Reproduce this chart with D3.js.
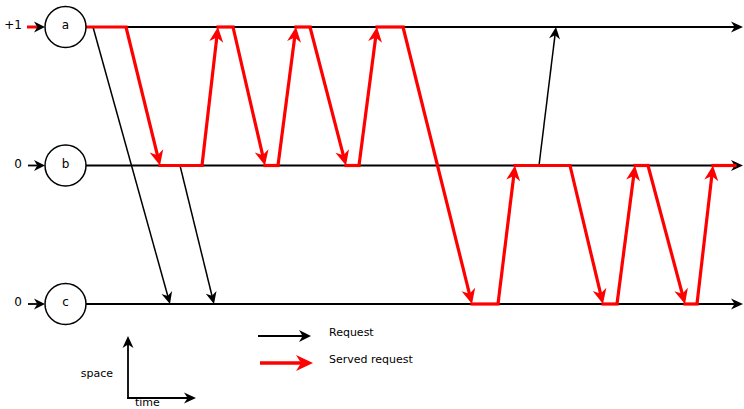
<!DOCTYPE html>
<html lang="en">
<head>
    <meta charset="UTF-8">
    <title>Space-time diagram</title>
    <style>
        body { margin: 0; background: #fff; }
        text { font-family: "DejaVu Sans", sans-serif; fill: #000; }
    </style>
    <script src="https://d3js.org/d3.v7.min.js"></script>
</head>
<body>
    <svg width="744" height="409"></svg>
    <script>
        // processes, top to bottom, and their initial values
        const processes = ["a", "b", "c"];
        const initValues = ["+1", "0", "0"];

        // path of the served request: [time, process]
        const servedPath = [
            [1, "a"], [40, "a"], [74, "b"], [116, "b"], [132, "a"], [147, "a"],
            [179, "b"], [192, "b"], [210, "a"], [224, "a"], [260, "b"], [273, "b"],
            [291, "a"], [317, "a"], [386, "c"], [412, "c"], [429, "b"], [484, "b"],
            [517, "c"], [531, "c"], [549, "b"], [562, "b"], [599, "c"], [611, "c"],
            [627, "b"], [649, "b"]
        ];

        // plain requests
        const requests = [
            { from: "a", t0: 7, to: "c", t1: 84 },
            { from: "b", t0: 94, to: "c", t1: 128 },
            { from: "b", t0: 453, to: "a", t1: 470 }
        ];

        const legendItems = ["Request", "Served request"];

        const width = 744;
        const height = 409;

        const x = d3.scaleLinear().domain([0, 658]).range([86, 744]);
        const y = d3.scalePoint().domain(processes).range([27, 304]);

        const svg = d3.select("svg");

        // stealth-like arrow head, tip at (x2,y2)
        function arrowHead(g, x1, y1, x2, y2, len, wid, color) {
            const ang = Math.atan2(y2 - y1, x2 - x1) * 180 / Math.PI;
            g.append("path")
                .attr("d", `M0,0 L${-len},${-wid / 2} L${-len * 0.7},0 L${-len},${wid / 2} Z`)
                .attr("fill", color)
                .attr("transform", `translate(${x2},${y2}) rotate(${ang})`);
        }

        function arrow(g, x1, y1, x2, y2, opt) {
            const d = Math.hypot(x2 - x1, y2 - y1);
            const k = (d - opt.len * 0.6) / d;
            g.append("line")
                .attr("x1", x1).attr("y1", y1)
                .attr("x2", x1 + (x2 - x1) * k).attr("y2", y1 + (y2 - y1) * k)
                .attr("stroke", opt.color)
                .attr("stroke-width", opt.sw);
            arrowHead(g, x1, y1, x2, y2, opt.len, opt.wid, opt.color);
        }

        const blackOpt = { color: "#000", sw: 1.5, len: 12, wid: 11 };
        const redOpt = { color: "#ff0000", sw: 3.2, len: 15, wid: 14 };
        const cx = 65.5, r = 20.5;

        // process lines
        const lines = svg.append("g");
        processes.forEach(p => {
            lines.append("line")
                .attr("x1", x(0)).attr("y1", y(p))
                .attr("x2", x(650)).attr("y2", y(p))
                .attr("stroke", "#000").attr("stroke-width", 1.8);
        });

        // requests
        const req = svg.append("g");
        requests.forEach(d => {
            arrow(req, x(d.t0), y(d.from), x(d.t1), y(d.to), blackOpt);
        });

        // served request path
        const served = svg.append("g");
        for (let i = 1; i < servedPath.length; i++) {
            const [t0, p0] = servedPath[i - 1];
            const [t1, p1] = servedPath[i];
            if (p0 === p1) {
                served.append("line")
                    .attr("x1", x(t0)).attr("y1", y(p0))
                    .attr("x2", x(t1)).attr("y2", y(p1))
                    .attr("stroke", redOpt.color).attr("stroke-width", redOpt.sw)
                    .attr("stroke-linecap", "square");
            } else {
                arrow(served, x(t0), y(p0), x(t1), y(p1), redOpt);
            }
        }

        // arrow heads at the end of process lines
        processes.forEach(p => {
            arrowHead(lines, x(600), y(p), x(657), y(p), 12, 11, "#000");
        });

        // circles, labels, initial values
        const nodes = svg.append("g");
        processes.forEach((p, i) => {
            const yy = y(p);
            nodes.append("circle")
                .attr("cx", cx).attr("cy", yy).attr("r", r)
                .attr("fill", "#fff").attr("stroke", "#000").attr("stroke-width", 1.5);
            nodes.append("text")
                .attr("x", cx).attr("y", yy - 2)
                .attr("text-anchor", "middle")
                .attr("dominant-baseline", "central")
                .attr("font-size", 12)
                .text(p);
            nodes.append("text")
                .attr("x", 22).attr("y", yy - 2)
                .attr("text-anchor", "end")
                .attr("dominant-baseline", "central")
                .attr("font-size", 12)
                .text(initValues[i]);
            if (i === 0) {
                nodes.append("line")
                    .attr("x1", 27).attr("y1", yy).attr("x2", 37).attr("y2", yy)
                    .attr("stroke", "#ff0000").attr("stroke-width", 3);
            } else {
                nodes.append("line")
                    .attr("x1", 28).attr("y1", yy).attr("x2", 37).attr("y2", yy)
                    .attr("stroke", "#000").attr("stroke-width", 1.8);
            }
            arrowHead(nodes, 27, yy, cx - r, yy, 11, 11, "#000");
        });

        // legend
        const legend = svg.append("g");
        arrow(legend, 258, 336, 311, 336, { color: "#000", sw: 1.8, len: 12, wid: 12 });
        arrow(legend, 260, 363, 313, 363, { color: "#ff0000", sw: 3.6, len: 17, wid: 16 });
        legend.selectAll("text")
            .data(legendItems)
            .enter().append("text")
            .attr("x", 329)
            .attr("y", (d, i) => 332 + i * 27)
            .attr("dominant-baseline", "central")
            .attr("font-size", 11)
            .text(d => d);

        // space / time axes
        const axes = svg.append("g");
        arrow(axes, 128, 398, 128, 336, { color: "#000", sw: 1.8, len: 12, wid: 11 });
        arrow(axes, 127, 398, 196, 398, { color: "#000", sw: 1.8, len: 12, wid: 11 });
        axes.append("text")
            .attr("x", 113).attr("y", 373)
            .attr("text-anchor", "end")
            .attr("dominant-baseline", "central")
            .attr("font-size", 11)
            .text("space");
        axes.append("text")
            .attr("x", 135).attr("y", 402)
            .attr("dominant-baseline", "central")
            .attr("font-size", 11)
            .text("time");
    </script>
</body>
</html>
